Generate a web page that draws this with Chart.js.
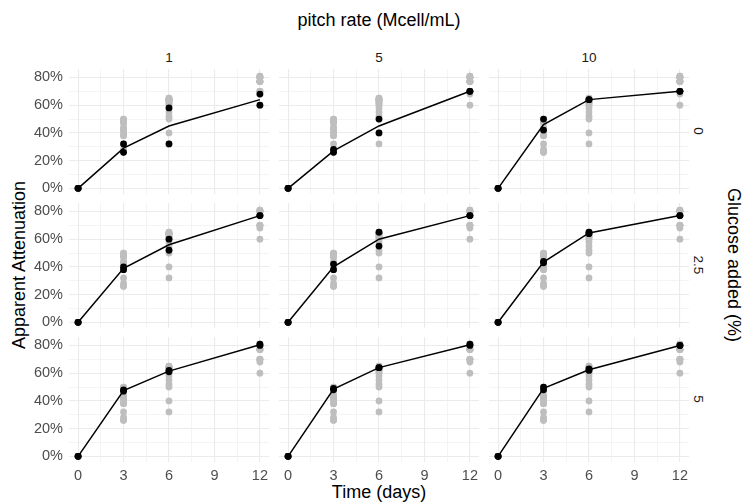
<!DOCTYPE html>
<html>
<head>
<meta charset="utf-8">
<script src="https://cdn.jsdelivr.net/npm/chart.js@4/dist/chart.umd.min.js"></script>
<style>
  body { margin: 0; background: #fff; width: 745px; height: 503px; position: relative; overflow: hidden;
         font-family: "Liberation Sans", Arial, sans-serif; }
  .box { position: absolute; }
  .t { position: absolute; white-space: nowrap; transform: translate(-50%, -50%); color: #000; }
  .strip { font-size: 13.5px; color: #1a1a1a; }
  .title { font-size: 18px; }
</style>
</head>
<body>

<div class="t title" style="left:379px; top:20px;">pitch rate (Mcell/mL)</div>
<div class="t title" style="left:379px; top:492px;">Time (days)</div>
<div class="t title" style="left:19px; top:265px; transform:translate(-50%,-50%) rotate(-90deg);">Apparent Attenuation</div>
<div class="t title" style="left:733px; top:265px; transform:translate(-50%,-50%) rotate(90deg);">Glucose added (%)</div>

<script>
// time points (days)
const days = [0, 3, 6, 12];
const pitchRates = ['1', '5', '10'];
const glucoseAdded = ['0', '2.5', '5'];
const xTicks = [0, 3, 6, 9, 12];
const yTicks = [0, 20, 40, 60, 80];

// apparent attenuation (%) — two replicates per day, per panel
const g0p1   = [[0, 0], [32, 26], [58, 32], [68, 60]];
const g0p5   = [[0, 0], [28, 26], [50, 40], [70, 70]];
const g0p10  = [[0, 0], [50, 42], [64, 64], [70, 70]];
const g25p1  = [[0, 0], [40, 38], [60, 52], [77, 77]];
const g25p5  = [[0, 0], [42, 38], [65, 55], [77, 77]];
const g25p10 = [[0, 0], [44, 43], [65, 64], [77, 77]];
const g5p1   = [[0, 0], [47, 48], [61, 62], [81, 80]];
const g5p5   = [[0, 0], [49, 48], [64, 64], [81, 80]];
const g5p10  = [[0, 0], [50, 48], [63, 62], [80, 80]];

const panels = [
  [g0p1, g0p5, g0p10],
  [g25p1, g25p5, g25p10],
  [g5p1, g5p5, g5p10]
];

// layout
const colLeft = [69, 279, 489];
const rowTop = [68.5, 202.5, 336.5];
const panelW = 200, panelH = 125;
const yAxisW = 69, xAxisH = 26;

Chart.defaults.font.family = '"Liberation Sans", Arial, sans-serif';
Chart.defaults.font.size = 14.5;
Chart.defaults.color = '#4d4d4d';

function toPoints(vals) {
  const pts = [];
  vals.forEach((reps, i) => reps.forEach(v => pts.push({ x: days[i], y: v })));
  return pts;
}

// every observation, shown in grey behind each panel
const allPoints = [];
panels.forEach(row => row.forEach(p => allPoints.push(...toPoints(p))));

function addLabel(cls, text, x, y, rot) {
  const d = document.createElement('div');
  d.className = 't ' + cls;
  d.textContent = text;
  d.style.left = x + 'px';
  d.style.top = y + 'px';
  if (rot) d.style.transform = 'translate(-50%,-50%) rotate(' + rot + 'deg)';
  document.body.appendChild(d);
}

pitchRates.forEach((p, c) => addLabel('strip', p, colLeft[c] + panelW / 2, 57));
glucoseAdded.forEach((g, r) => addLabel('strip', g, 698, rowTop[r] + panelH / 2, 90));

function makePanel(r, c) {
  const vals = panels[r][c];
  const showY = c === 0, showX = r === 2;
  const box = document.createElement('div');
  box.className = 'box';
  box.style.left = (colLeft[c] - (showY ? yAxisW : 0)) + 'px';
  box.style.top = rowTop[r] + 'px';
  box.style.width = (panelW + (showY ? yAxisW : 0)) + 'px';
  box.style.height = (panelH + (showX ? xAxisH : 0)) + 'px';
  const cv = document.createElement('canvas');
  box.appendChild(cv);
  document.body.appendChild(box);

  const means = days.map((d, i) => ({ x: d, y: vals[i].reduce((a, b) => a + b, 0) / vals[i].length }));

  new Chart(cv, {
    type: 'scatter',
    data: {
      datasets: [
        { data: toPoints(vals), backgroundColor: '#000', pointRadius: 3.4, pointHoverRadius: 3.4, borderWidth: 0 },
        { type: 'line', data: means, borderColor: '#000', borderWidth: 1.5, pointRadius: 0, tension: 0, fill: false },
        { data: allPoints, backgroundColor: '#bebebe', pointRadius: 3.4, pointHoverRadius: 3.4, borderWidth: 0 }
      ]
    },
    options: {
      responsive: true,
      maintainAspectRatio: false,
      animation: false,
      events: [],
      layout: { padding: 0, autoPadding: false },
      plugins: { legend: { display: false }, tooltip: { enabled: false } },
      clip: false,
      scales: {
        x: {
          type: 'linear', min: -0.6, max: 12.6,
          border: { display: false },
          grid: {
            drawTicks: false,
            color: '#ebebeb',
            lineWidth: ctx => (ctx.tick && ctx.tick.value % 3 === 0) ? 1.1 : 0.55
          },
          afterBuildTicks: s => { s.ticks = [0, 1.5, 3, 4.5, 6, 7.5, 9, 10.5, 12].map(v => ({ value: v })); },
          ticks: {
            display: showX, padding: 5, maxRotation: 0, autoSkip: false,
            callback: v => xTicks.includes(v) ? String(v) : ''
          },
          afterFit: s => { s.height = showX ? xAxisH : 0; s.paddingLeft = 0; s.paddingRight = 0; }
        },
        y: {
          type: 'linear', min: -4.1, max: 86.1,
          border: { display: false },
          grid: {
            drawTicks: false,
            color: '#ebebeb',
            lineWidth: ctx => (ctx.tick && ctx.tick.value % 20 === 0) ? 1.1 : 0.55
          },
          afterBuildTicks: s => { s.ticks = [0, 10, 20, 30, 40, 50, 60, 70, 80].map(v => ({ value: v })); },
          ticks: {
            display: showY, padding: 6, autoSkip: false,
            callback: v => yTicks.includes(v) ? v + '%' : ''
          },
          afterFit: s => { s.width = showY ? yAxisW : 0; s.paddingTop = 0; s.paddingBottom = 0; }
        }
      }
    }
  });
}

for (let r = 0; r < 3; r++) for (let c = 0; c < 3; c++) makePanel(r, c);
</script>
</body>
</html>
